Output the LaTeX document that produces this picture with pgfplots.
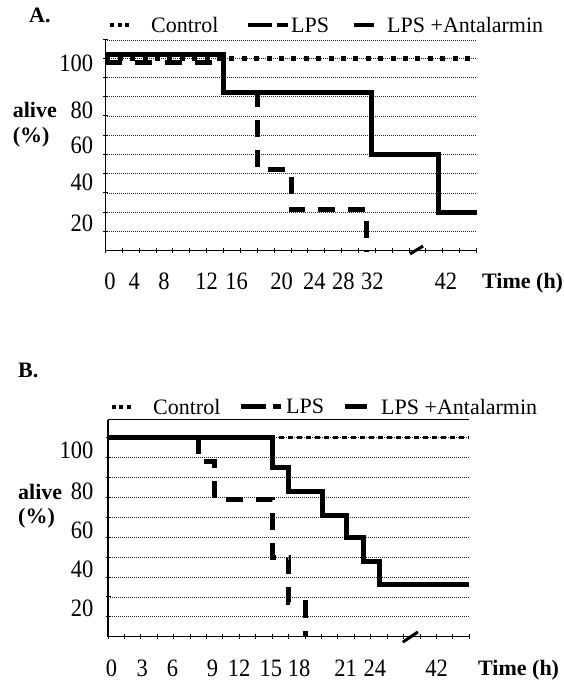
\documentclass[border=0pt]{standalone}
\usepackage{fontspec}
\setmainfont{Liberation Serif}
\newfontfamily\tickfont{Liberation Serif}[FakeStretch=0.9]
\usepackage{pgfplots}
\pgfplotsset{compat=1.18}
\newcommand\tf{\fontsize{22}{24}\selectfont}
\newcommand\tkf{\tickfont\fontsize{25}{26}\selectfont}
\pgfplotsset{
  surv/.style={
    scale only axis, anchor=south west,
    xmin=0, xmax=22, ymin=0,
    axis lines*=left,
    axis line style={black, line width=1.6pt, -},
    clip=false,
    tick align=center,
    major tick length=0pt,
    minor tick length=5pt,
    minor tick style={black, line width=1pt},
    minor xtick={0,1,...,22},
    yminorgrids=true,
    minor grid style={black!85, line width=0.8pt, dash pattern=on 0.9pt off 1.1pt},
    tick label style={font=\tkf},
    xticklabel style={anchor=center, inner sep=0pt},
    yticklabel style={anchor=east, inner sep=0pt},
  },
  ctrl/.style={black, line width=5pt, dash pattern=on 5pt off 7.4pt},
  ctrlB/.style={black, line width=3.5pt, dash pattern=on 4.5pt off 4.5pt},
  lps/.style={black, line width=5pt, dash pattern=on 17pt off 13pt},
  anta/.style={black, line width=5pt},
}
\begin{document}
\begin{tikzpicture}
\useasboundingbox (0pt,0pt) rectangle (564pt,682pt);
% ---------------- Panel A ----------------
\begin{axis}[surv, at={(105.4pt,431.3pt)}, width=371.2pt, height=210.7pt, ymax=109.5,
  minor ytick={10,20,...,100,109.5},
  xtick={0.27,1.71,3.48,6.0,7.78,10.45,12.38,14.1,15.83,20.18},
  xticklabels={0,4,8,12,16,20,24,28,32,42},
  ytick={97.4,73.1,54.9,35.3,14.2},
  yticklabels={100,80,60,40,20},
  xticklabel style={yshift=-31pt},
  yticklabel style={xshift=-12pt}]
\addplot[ctrl] coordinates {(0,100) (22,100)};
\addplot[lps] coordinates {(0,98) (7,98) (7,82) (9,82) (9,42) (11,42) (11,21.5) (15.5,21.5) (15.5,0)};
\addplot[anta] coordinates {(0,102) (7,102) (7,82) (15.8,82) (15.8,50) (19.74,50) (19.74,20) (22,20)};
\draw[black, line width=3pt] (axis cs:18.05,-1.7) -- (axis cs:18.83,2.4);
\end{axis}
% ---------------- Panel B ----------------
\begin{axis}[surv, at={(108pt,45.3pt)}, width=361.4pt, height=216.9pt, ymax=109,
  minor ytick={10,20,...,100},
  xtick={0.22,2.09,3.93,6.36,7.98,9.91,11.64,14.47,16.25,20.01},
  xticklabels={0,3,6,9,12,15,18,21,24,42},
  ytick={93.8,72.9,53.6,33.9,14.3},
  yticklabels={100,80,60,40,20},
  xticklabel style={yshift=-32pt},
  yticklabel style={xshift=-14.5pt}]
\draw[black, line width=1.2pt] (rel axis cs:0,1) -- (rel axis cs:1,1);
\addplot[ctrlB] coordinates {(0,100) (22,100)};
\addplot[lps] coordinates {(0,100) (5.5,100) (5.5,88) (6.47,88) (6.47,69) (10,69) (10,40) (11,40) (11,17) (12,17) (12,0)};
\addplot[anta] coordinates {(0,100) (10,100) (10,85) (11,85) (11,73) (13.07,73) (13.07,61) (14.5,61) (14.5,50) (15.54,50) (15.54,38) (16.55,38) (16.55,26) (22,26)};
\draw[black, line width=3pt] (axis cs:17.95,-2.7) -- (axis cs:18.87,2.4);
\end{axis}
% ---------------- Labels and legends ----------------
\tikzset{lab/.style={anchor=west, inner sep=0pt, font=\tf\bfseries}, txt/.style={anchor=west, inner sep=0pt, font=\tf}}
\node[lab] at (29pt,667pt) {A.};
\node[lab] at (12.6pt,572pt) {alive};
\node[lab] at (12.6pt,545pt) {(\%)};
\node[lab] at (482pt,399pt) {Time (h)};
\draw[black, line width=4pt, dash pattern=on 4pt off 3.5pt] (110pt,657pt) -- (129.5pt,657pt);
\node[txt] at (151pt,657pt) {Control};
\draw[black, line width=4.5pt] (248pt,657pt) -- (271.6pt,657pt) (277pt,657pt) -- (288pt,657pt);
\node[txt] at (291pt,657pt) {LPS};
\draw[black, line width=4.5pt] (354pt,657pt) -- (374pt,657pt);
\node[txt] at (387pt,657pt) {LPS +Antalarmin};
\node[lab] at (18pt,312pt) {B.};
\node[lab] at (18pt,190.3pt) {alive};
\node[lab] at (18pt,163.7pt) {(\%)};
\node[lab] at (478pt,12pt) {Time (h)};
\draw[black, line width=4pt, dash pattern=on 4pt off 3.5pt] (111.5pt,275.3pt) -- (133pt,275.3pt);
\node[txt] at (153pt,275.3pt) {Control};
\draw[black, line width=4.5pt] (241pt,275.3pt) -- (266pt,275.3pt) (273pt,275.3pt) -- (280.6pt,275.3pt);
\node[txt] at (286pt,275.3pt) {LPS};
\draw[black, line width=4.5pt] (345pt,275.3pt) -- (367pt,275.3pt);
\node[txt] at (381pt,275.3pt) {LPS +Antalarmin};
\end{tikzpicture}
\end{document}
